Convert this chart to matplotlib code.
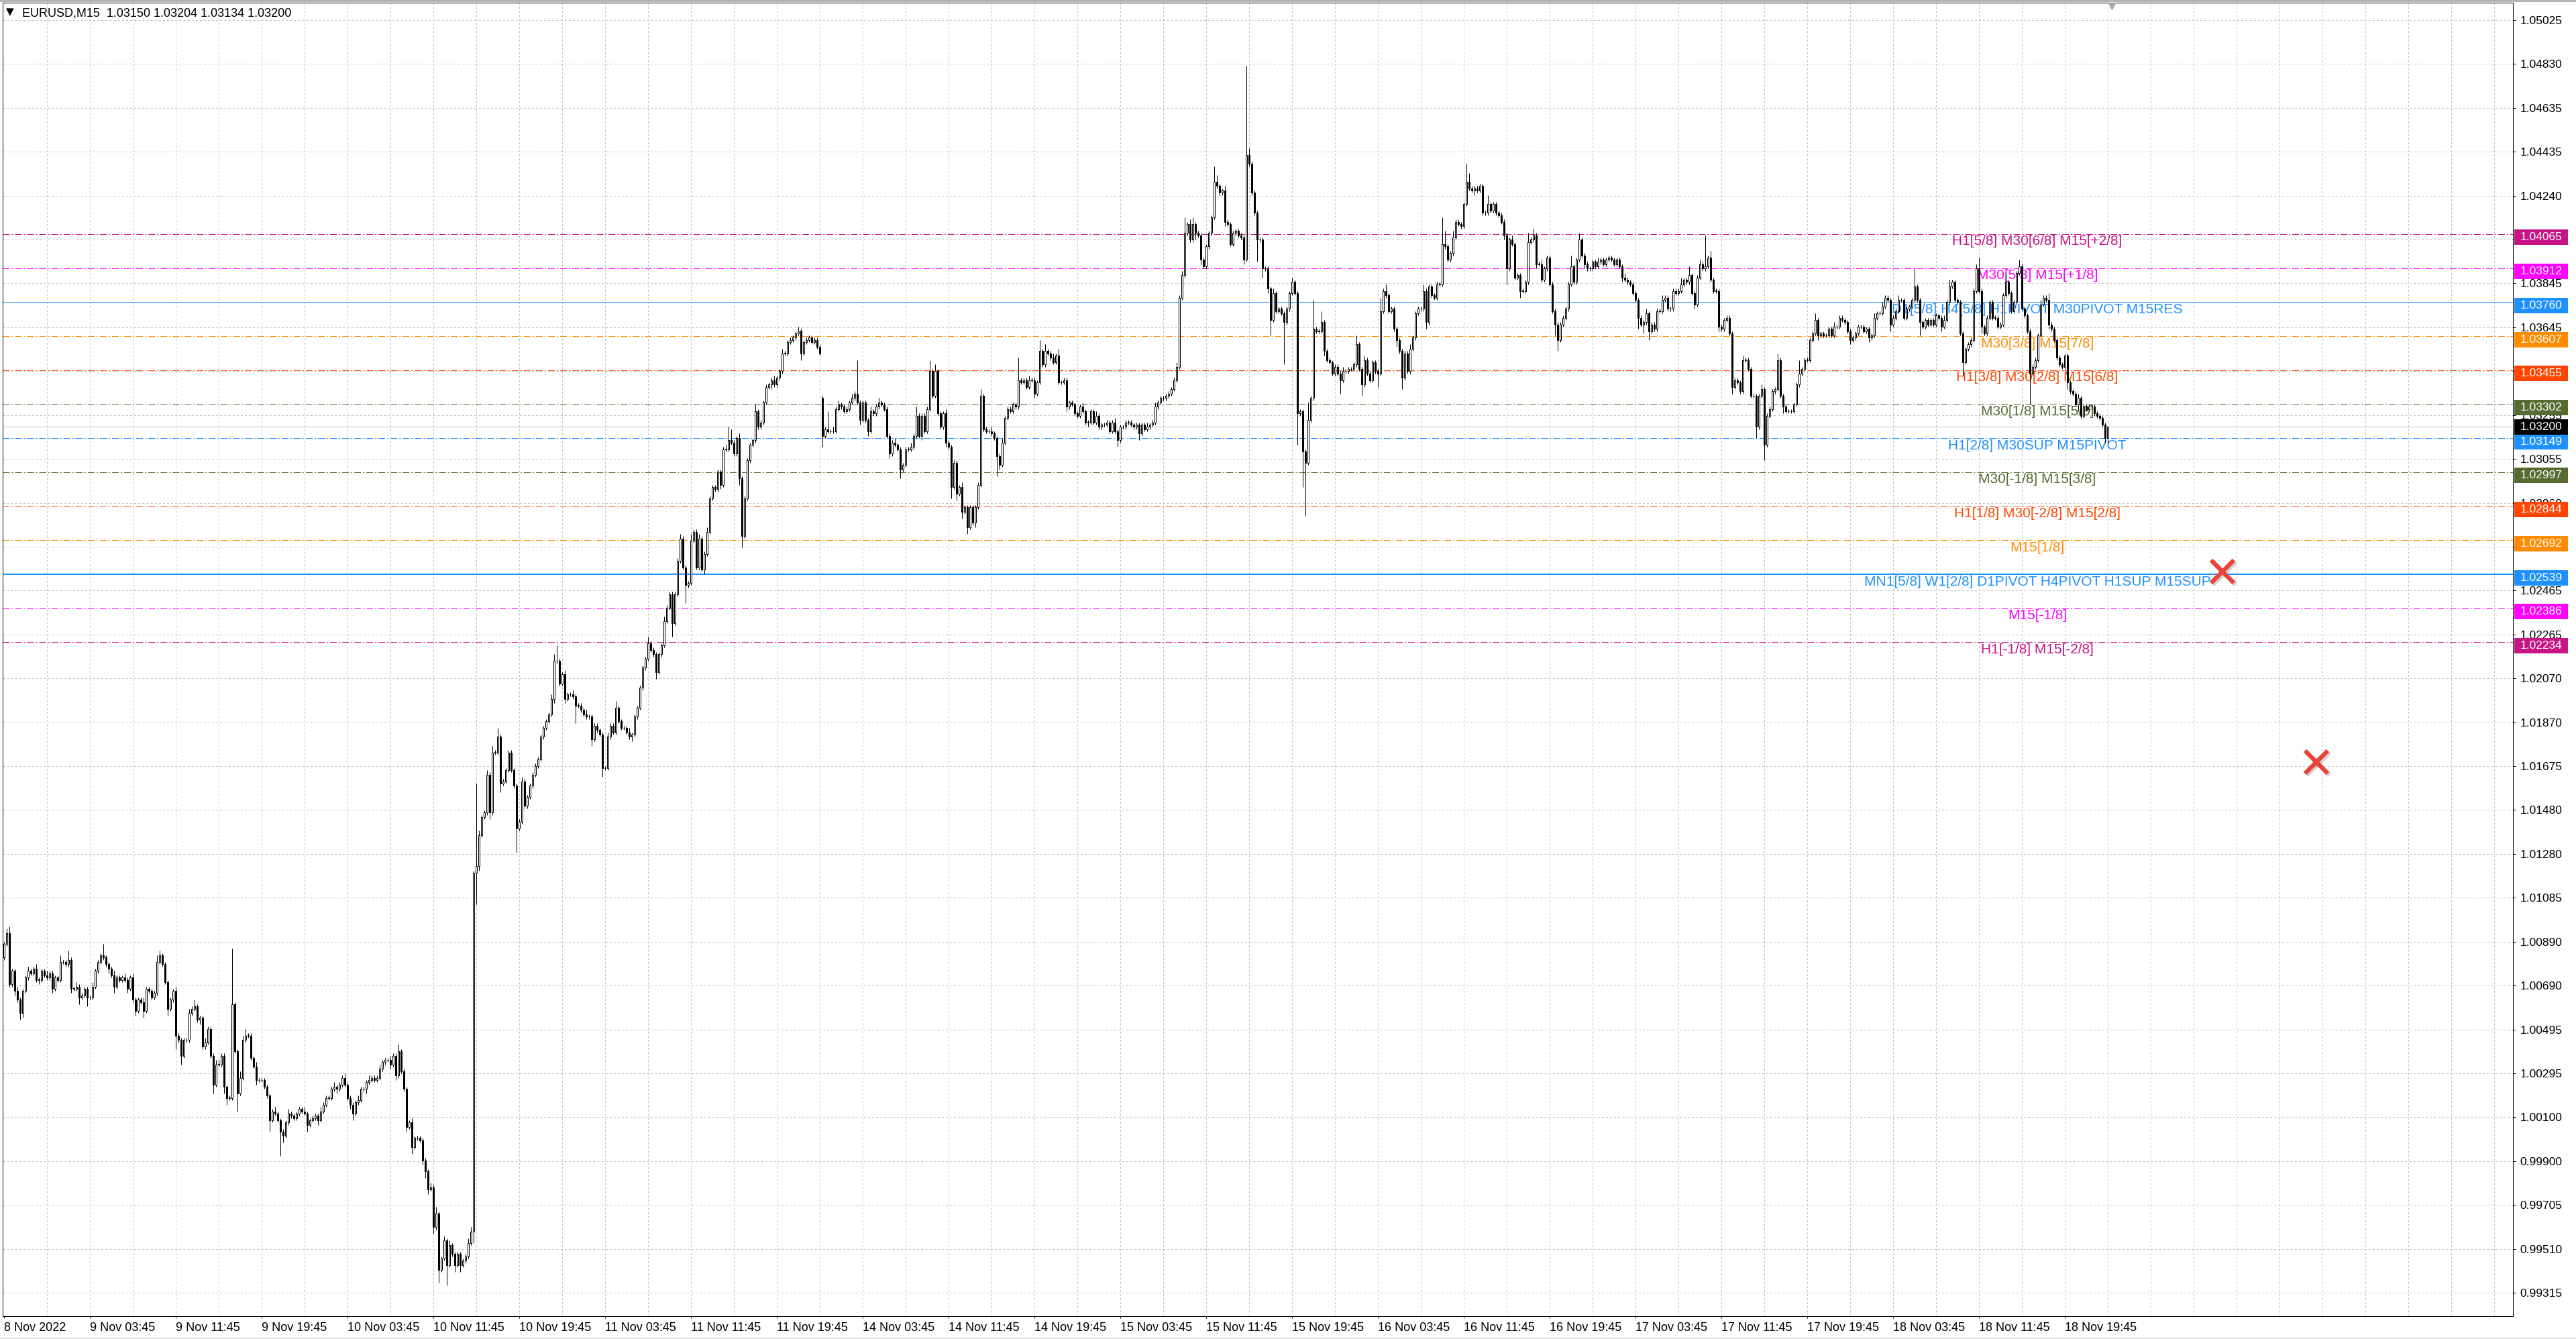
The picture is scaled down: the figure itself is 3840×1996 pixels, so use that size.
import numpy as np
import matplotlib
matplotlib.use("Agg")
import matplotlib.pyplot as plt
from matplotlib.patches import Rectangle
from matplotlib.transforms import blended_transform_factory

plt.rcParams['font.family'] = ['Liberation Sans', 'DejaVu Sans']
plt.rcParams['lines.scale_dashes'] = False

# ---- EURUSD M15 candles (bar 0 = 8 Nov 19:45) ----
first_open = 1.0082
closes = [
    1.0088, 1.0093, 1.0070, 1.0076, 1.0067, 1.0063, 1.0057, 1.0067, 1.0073, 1.0076,  # 0
    1.0075, 1.0077, 1.0072, 1.0072, 1.0076, 1.0074, 1.0073, 1.0075, 1.0068, 1.0073,
    1.0072, 1.0080, 1.0080, 1.0079, 1.0081, 1.0068, 1.0068, 1.0069, 1.0064, 1.0065,
    1.0068, 1.0064, 1.0064, 1.0069, 1.0076, 1.0080, 1.0083, 1.0082, 1.0079, 1.0077,
    1.0074, 1.0069, 1.0073, 1.0072, 1.0073, 1.0072, 1.0068, 1.0073, 1.0063, 1.0058,  # 40
    1.0063, 1.0062, 1.0058, 1.0068, 1.0067, 1.0064, 1.0066, 1.0080, 1.0083, 1.0079,
    1.0071, 1.0059, 1.0063, 1.0067, 1.0047, 1.0045, 1.0038, 1.0045, 1.0045, 1.0057,
    1.0059, 1.0060, 1.0054, 1.0055, 1.0042, 1.0044, 1.0050, 1.0038, 1.0025, 1.0034,
    1.0034, 1.0038, 1.0024, 1.0019, 1.0019, 1.0061, 1.0040, 1.0021, 1.0028, 1.0045,  # 80
    1.0047, 1.0047, 1.0037, 1.0033, 1.0027, 1.0027, 1.0027, 1.0024, 1.0020, 1.0009,
    1.0013, 1.0012, 1.0009, 1.0004, 1.0002, 1.0008, 1.0012, 1.0011, 1.0010, 1.0012,
    1.0014, 1.0013, 1.0012, 1.0007, 1.0009, 1.0010, 1.0011, 1.0009, 1.0013, 1.0016,
    1.0019, 1.0019, 1.0023, 1.0024, 1.0023, 1.0025, 1.0028, 1.0025, 1.0019, 1.0016,  # 120
    1.0012, 1.0017, 1.0018, 1.0023, 1.0023, 1.0026, 1.0027, 1.0028, 1.0027, 1.0028,
    1.0032, 1.0035, 1.0036, 1.0036, 1.0034, 1.0038, 1.0029, 1.0040, 1.0031, 1.0023,
    1.0006, 1.0008, 0.9997, 1.0001, 1.0001, 1.0000, 0.9991, 0.9986, 0.9978, 0.9979,
    0.9961, 0.9967, 0.9942, 0.9947, 0.9955, 0.9944, 0.9953, 0.9949, 0.9944, 0.9949,  # 160
    0.9944, 0.9946, 0.9948, 0.9954, 0.9959, 1.0120, 1.0123, 1.0137, 1.0145, 1.0147,
    1.0164, 1.0147, 1.0174, 1.0174, 1.0181, 1.0160, 1.0161, 1.0166, 1.0174, 1.0166,
    1.0159, 1.0140, 1.0143, 1.0161, 1.0150, 1.0154, 1.0159, 1.0164, 1.0168, 1.0171,
    1.0181, 1.0185, 1.0188, 1.0191, 1.0198, 1.0215, 1.0215, 1.0205, 1.0209, 1.0198,  # 200
    1.0200, 1.0200, 1.0199, 1.0195, 1.0195, 1.0193, 1.0191, 1.0190, 1.0190, 1.0180,
    1.0186, 1.0184, 1.0182, 1.0167, 1.0167, 1.0181, 1.0186, 1.0183, 1.0194, 1.0188,
    1.0185, 1.0185, 1.0183, 1.0181, 1.0182, 1.0190, 1.0194, 1.0203, 1.0212, 1.0216,
    1.0223, 1.0220, 1.0218, 1.0210, 1.0218, 1.0222, 1.0233, 1.0239, 1.0245, 1.0232,  # 240
    1.0245, 1.0260, 1.0270, 1.0257, 1.0249, 1.0250, 1.0269, 1.0273, 1.0257, 1.0270,
    1.0256, 1.0263, 1.0273, 1.0288, 1.0293, 1.0292, 1.0300, 1.0294, 1.0310, 1.0310,
    1.0314, 1.0313, 1.0308, 1.0315, 1.0297, 1.0271, 1.0288, 1.0305, 1.0312, 1.0314,
    1.0327, 1.0320, 1.0322, 1.0331, 1.0338, 1.0339, 1.0341, 1.0339, 1.0342, 1.0345,  # 280
    1.0353, 1.0353, 1.0358, 1.0359, 1.0360, 1.0362, 1.0363, 1.0353, 1.0358, 1.0359,
    1.0360, 1.0358, 1.0359, 1.0356, 1.0353, 1.0316, 1.0319, 1.0318, 1.0318, 1.0318,
    1.0328, 1.0330, 1.0329, 1.0327, 1.0328, 1.0331, 1.0333, 1.0335, 1.0331, 1.0323,
    1.0331, 1.0323, 1.0318, 1.0327, 1.0326, 1.0329, 1.0331, 1.0330, 1.0328, 1.0316,  # 320
    1.0308, 1.0313, 1.0312, 1.0310, 1.0301, 1.0303, 1.0310, 1.0310, 1.0311, 1.0316,
    1.0325, 1.0316, 1.0325, 1.0318, 1.0328, 1.0345, 1.0334, 1.0345, 1.0326, 1.0320,
    1.0326, 1.0313, 1.0311, 1.0293, 1.0304, 1.0290, 1.0293, 1.0282, 1.0284, 1.0275,
    1.0284, 1.0277, 1.0284, 1.0294, 1.0334, 1.0319, 1.0318, 1.0318, 1.0317, 1.0315,  # 360
    1.0307, 1.0303, 1.0313, 1.0324, 1.0328, 1.0327, 1.0330, 1.0329, 1.0341, 1.0340,
    1.0341, 1.0338, 1.0341, 1.0341, 1.0335, 1.0340, 1.0354, 1.0348, 1.0354, 1.0353,
    1.0351, 1.0349, 1.0352, 1.0340, 1.0340, 1.0341, 1.0329, 1.0331, 1.0330, 1.0326,
    1.0325, 1.0329, 1.0327, 1.0322, 1.0322, 1.0327, 1.0322, 1.0325, 1.0320, 1.0321,  # 400
    1.0321, 1.0322, 1.0318, 1.0322, 1.0318, 1.0314, 1.0320, 1.0320, 1.0322, 1.0322,
    1.0321, 1.0320, 1.0321, 1.0317, 1.0321, 1.0319, 1.0320, 1.0321, 1.0322, 1.0329,
    1.0331, 1.0333, 1.0333, 1.0334, 1.0335, 1.0337, 1.0341, 1.0347, 1.0378, 1.0388,
    1.0407, 1.0411, 1.0404, 1.0411, 1.0407, 1.0406, 1.0395, 1.0392, 1.0401, 1.0407,  # 440
    1.0414, 1.0430, 1.0428, 1.0425, 1.0426, 1.0412, 1.0411, 1.0402, 1.0407, 1.0408,
    1.0406, 1.0405, 1.0395, 1.0442, 1.0438, 1.0425, 1.0416, 1.0404, 1.0404, 1.0391,
    1.0391, 1.0382, 1.0368, 1.0380, 1.0372, 1.0373, 1.0371, 1.0367, 1.0373, 1.0380,
    1.0385, 1.0380, 1.0326, 1.0327, 1.0309, 1.0304, 1.0323, 1.0333, 1.0364, 1.0363,  # 480
    1.0363, 1.0367, 1.0354, 1.0350, 1.0349, 1.0344, 1.0347, 1.0344, 1.0341, 1.0345,
    1.0345, 1.0346, 1.0346, 1.0348, 1.0357, 1.0346, 1.0339, 1.0350, 1.0344, 1.0341,
    1.0349, 1.0345, 1.0344, 1.0372, 1.0381, 1.0379, 1.0372, 1.0373, 1.0364, 1.0359,
    1.0354, 1.0342, 1.0353, 1.0345, 1.0355, 1.0360, 1.0371, 1.0373, 1.0373, 1.0381,  # 520
    1.0367, 1.0383, 1.0379, 1.0378, 1.0384, 1.0384, 1.0402, 1.0401, 1.0395, 1.0398,
    1.0405, 1.0412, 1.0411, 1.0410, 1.0420, 1.0430, 1.0427, 1.0426, 1.0427, 1.0426,
    1.0428, 1.0416, 1.0416, 1.0420, 1.0417, 1.0420, 1.0416, 1.0415, 1.0412, 1.0406,
    1.0391, 1.0404, 1.0402, 1.0387, 1.0388, 1.0381, 1.0381, 1.0385, 1.0403, 1.0404,  # 560
    1.0406, 1.0393, 1.0393, 1.0386, 1.0391, 1.0396, 1.0384, 1.0372, 1.0366, 1.0359,
    1.0366, 1.0369, 1.0373, 1.0384, 1.0392, 1.0385, 1.0395, 1.0404, 1.0397, 1.0393,
    1.0391, 1.0391, 1.0394, 1.0392, 1.0394, 1.0395, 1.0393, 1.0395, 1.0396, 1.0395,
    1.0393, 1.0395, 1.0392, 1.0387, 1.0386, 1.0385, 1.0384, 1.0380, 1.0377, 1.0369,  # 600
    1.0366, 1.0367, 1.0371, 1.0363, 1.0366, 1.0364, 1.0372, 1.0372, 1.0377, 1.0378,
    1.0373, 1.0373, 1.0381, 1.0380, 1.0381, 1.0384, 1.0386, 1.0385, 1.0388, 1.0380,
    1.0375, 1.0387, 1.0393, 1.0391, 1.0392, 1.0396, 1.0386, 1.0381, 1.0381, 1.0365,
    1.0364, 1.0368, 1.0369, 1.0362, 1.0338, 1.0341, 1.0340, 1.0336, 1.0350, 1.0350,  # 640
    1.0346, 1.0334, 1.0334, 1.0320, 1.0334, 1.0337, 1.0312, 1.0325, 1.0328, 1.0336,
    1.0337, 1.0350, 1.0334, 1.0329, 1.0327, 1.0327, 1.0327, 1.0330, 1.0339, 1.0344,
    1.0346, 1.0350, 1.0350, 1.0359, 1.0362, 1.0368, 1.0361, 1.0362, 1.0361, 1.0361,
    1.0364, 1.0361, 1.0365, 1.0365, 1.0369, 1.0368, 1.0367, 1.0363, 1.0359, 1.0360,  # 680
    1.0362, 1.0365, 1.0365, 1.0363, 1.0364, 1.0360, 1.0361, 1.0369, 1.0371, 1.0371,
    1.0374, 1.0378, 1.0377, 1.0366, 1.0369, 1.0372, 1.0377, 1.0377, 1.0369, 1.0373,
    1.0374, 1.0377, 1.0383, 1.0377, 1.0367, 1.0365, 1.0368, 1.0366, 1.0368, 1.0366,
    1.0370, 1.0369, 1.0365, 1.0368, 1.0376, 1.0383, 1.0385, 1.0377, 1.0376, 1.0362,  # 720
    1.0349, 1.0355, 1.0357, 1.0359, 1.0381, 1.0391, 1.0381, 1.0365, 1.0362, 1.0369,
    1.0376, 1.0369, 1.0369, 1.0365, 1.0366, 1.0379, 1.0385, 1.0380, 1.0372, 1.0376,
    1.0389, 1.0392, 1.0373, 1.0370, 1.0363, 1.0344, 1.0347, 1.0350, 1.0361, 1.0375,
    1.0378, 1.0377, 1.0366, 1.0364, 1.0359, 1.0351, 1.0348, 1.0347, 1.0352, 1.0340,  # 760
    1.0336, 1.0335, 1.0330, 1.0333, 1.0325, 1.0329, 1.0328, 1.0329, 1.0329, 1.0326,
    1.0325, 1.0324, 1.0321, 1.0315, 1.0320,
]
# weekend gap: Monday 14 Nov opened below Friday's close
gap_opens = {305: 1.0333}

# wick lengths beyond the body, in pips
wick_up = [
    1, 2, 3, 1, 1, 2, 1, 1, 1, 2, 1, 1, 2, 1, 1, 1, 2, 1, 1, 1,
    1, 3, 1, 1, 4, 1, 1, 2, 1, 1, 1, 1, 1, 2, 1, 1, 1, 5, 1, 1,
    1, 2, 1, 1, 1, 2, 1, 1, 2, 1, 1, 1, 2, 1, 1, 1, 1, 3, 2, 1,
    1, 1, 1, 1, 2, 1, 1, 1, 1, 2, 1, 3, 1, 1, 1, 2, 1, 1, 1, 2,
    2, 1, 1, 1, 1, 25, 1, 1, 3, 2, 3, 1, 1, 1, 2, 1, 1, 1, 1, 1,
    1, 2, 1, 1, 1, 1, 2, 1, 1, 1, 1, 1, 2, 1, 1, 1, 1, 1, 2, 1,
    1, 1, 1, 2, 1, 1, 1, 2, 1, 1, 1, 1, 2, 1, 1, 1, 2, 1, 1, 1,
    2, 1, 1, 1, 2, 1, 1, 3, 1, 1, 1, 1, 2, 1, 1, 1, 1, 1, 1, 2,
    1, 3, 1, 1, 2, 1, 2, 1, 1, 1, 1, 1, 1, 2, 2, 1, 37, 2, 1, 1,
    2, 1, 3, 1, 4, 1, 1, 1, 1, 1, 1, 1, 1, 2, 1, 1, 1, 1, 1, 1,
    1, 1, 1, 1, 2, 3, 7, 1, 1, 2, 1, 1, 2, 1, 1, 1, 1, 2, 1, 1,
    1, 1, 1, 1, 1, 2, 1, 1, 3, 1, 1, 1, 1, 2, 1, 1, 1, 1, 1, 1,
    3, 1, 1, 1, 1, 1, 2, 1, 1, 1, 1, 1, 2, 1, 1, 1, 3, 1, 1, 2,
    1, 1, 2, 1, 1, 1, 1, 1, 1, 2, 6, 5, 1, 1, 2, 1, 1, 1, 1, 1,
    3, 1, 1, 1, 1, 1, 1, 2, 1, 1, 2, 1, 1, 1, 1, 1, 2, 1, 1, 1,
    1, 1, 1, 1, 1, 1, 1, 8, 1, 2, 1, 2, 1, 1, 1, 1, 2, 1, 15, 1,
    1, 1, 1, 2, 1, 1, 2, 1, 1, 1, 1, 1, 2, 1, 1, 1, 1, 1, 2, 1,
    4, 1, 1, 1, 1, 5, 1, 3, 1, 1, 1, 2, 1, 1, 1, 1, 1, 2, 1, 1,
    1, 1, 1, 1, 3, 1, 1, 1, 2, 1, 1, 1, 2, 1, 1, 1, 1, 1, 10, 1,
    1, 1, 2, 1, 1, 1, 5, 1, 3, 1, 1, 2, 1, 3, 1, 1, 1, 1, 1, 1,
    1, 1, 2, 1, 1, 1, 1, 2, 1, 1, 1, 1, 1, 1, 2, 1, 1, 1, 1, 1,
    1, 1, 1, 1, 1, 1, 2, 1, 1, 2, 1, 1, 1, 1, 1, 1, 1, 2, 1, 2,
    7, 1, 2, 3, 1, 1, 1, 1, 1, 1, 1, 7, 3, 1, 1, 2, 1, 1, 1, 1,
    1, 1, 1, 40, 3, 1, 1, 1, 1, 1, 1, 1, 1, 2, 1, 1, 1, 1, 1, 1,
    2, 1, 1, 1, 1, 1, 8, 1, 13, 1, 1, 5, 1, 1, 1, 1, 1, 1, 1, 2,
    1, 1, 1, 1, 4, 1, 1, 2, 1, 1, 1, 1, 1, 6, 1, 3, 1, 1, 1, 1,
    1, 1, 1, 1, 2, 1, 1, 1, 1, 3, 1, 1, 1, 1, 1, 1, 12, 6, 1, 1,
    3, 1, 1, 1, 1, 8, 4, 1, 1, 1, 1, 1, 1, 4, 1, 1, 1, 1, 1, 1,
    1, 1, 2, 1, 1, 1, 1, 1, 4, 1, 3, 1, 1, 2, 1, 1, 1, 1, 1, 1,
    1, 1, 1, 1, 5, 1, 1, 3, 1, 1, 1, 1, 1, 1, 2, 1, 1, 1, 1, 1,
    1, 1, 1, 1, 2, 1, 1, 1, 1, 1, 1, 1, 2, 1, 1, 1, 1, 1, 2, 1,
    1, 1, 1, 1, 1, 3, 1, 1, 4, 1, 1, 1, 2, 1, 14, 1, 3, 1, 1, 1,
    1, 1, 1, 1, 1, 1, 1, 1, 2, 1, 1, 1, 1, 1, 1, 2, 1, 1, 1, 1,
    1, 3, 1, 1, 1, 1, 1, 1, 1, 6, 1, 1, 1, 1, 1, 3, 1, 1, 1, 1,
    1, 1, 2, 1, 1, 1, 1, 1, 1, 1, 1, 1, 1, 1, 1, 1, 1, 2, 1, 1,
    2, 1, 1, 1, 1, 1, 2, 1, 1, 1, 1, 1, 8, 1, 1, 1, 1, 1, 1, 1,
    1, 1, 1, 2, 1, 3, 1, 1, 1, 1, 1, 1, 1, 1, 1, 2, 5, 1, 1, 1,
    1, 1, 1, 1, 1, 1, 4, 1, 1, 1, 1, 3, 1, 1, 1, 1, 1, 1, 1, 2,
    1, 1, 3, 1, 1, 1, 1, 1, 1, 1, 1, 1, 1, 2, 1, 1, 1, 1, 1, 1,
    1, 1, 1, 1, 0,
]
wick_dn = [
    1, 1, 1, 1, 2, 1, 3, 2, 1, 1, 1, 1, 1, 2, 1, 1, 1, 1, 2, 1,
    1, 1, 1, 1, 1, 2, 1, 1, 3, 1, 1, 4, 1, 1, 1, 1, 1, 1, 1, 2,
    1, 3, 1, 1, 1, 1, 2, 1, 1, 2, 1, 1, 3, 1, 1, 1, 1, 1, 1, 1,
    1, 3, 1, 1, 6, 1, 4, 1, 1, 1, 1, 1, 1, 2, 1, 1, 1, 1, 4, 1,
    1, 1, 3, 3, 1, 1, 1, 8, 1, 1, 1, 1, 1, 1, 2, 1, 1, 1, 1, 5,
    1, 1, 1, 11, 3, 1, 1, 1, 1, 1, 1, 1, 1, 3, 1, 1, 1, 2, 1, 1,
    1, 1, 1, 1, 2, 1, 1, 1, 1, 2, 3, 1, 1, 1, 1, 2, 1, 1, 1, 1,
    1, 1, 1, 1, 2, 1, 2, 1, 1, 1, 2, 1, 3, 1, 1, 1, 2, 3, 2, 1,
    3, 1, 6, 1, 1, 9, 1, 1, 3, 1, 3, 1, 1, 1, 1, 5, 14, 2, 1, 1,
    1, 3, 1, 1, 1, 4, 1, 1, 1, 1, 1, 11, 1, 1, 1, 1, 1, 1, 1, 1,
    1, 1, 1, 1, 1, 2, 1, 1, 1, 2, 1, 1, 1, 8, 1, 1, 1, 1, 1, 3,
    1, 1, 1, 4, 1, 1, 1, 1, 1, 1, 1, 1, 1, 1, 2, 1, 1, 1, 1, 1,
    1, 1, 1, 3, 1, 1, 1, 1, 1, 6, 1, 1, 1, 1, 8, 1, 1, 1, 1, 1,
    1, 2, 1, 1, 1, 1, 1, 2, 1, 1, 1, 1, 1, 1, 3, 5, 1, 1, 1, 1,
    1, 1, 1, 1, 1, 1, 2, 1, 1, 1, 1, 1, 1, 1, 1, 1, 1, 3, 1, 1,
    1, 1, 1, 1, 1, 5, 1, 1, 1, 1, 1, 1, 1, 1, 1, 1, 1, 1, 1, 2,
    1, 1, 2, 1, 1, 1, 1, 1, 1, 1, 2, 1, 1, 1, 4, 1, 1, 1, 1, 1,
    1, 1, 2, 1, 1, 1, 1, 1, 1, 1, 1, 2, 1, 5, 1, 3, 1, 3, 1, 3,
    1, 1, 2, 1, 1, 1, 1, 1, 1, 1, 9, 2, 1, 1, 1, 1, 1, 1, 1, 1,
    1, 1, 1, 1, 2, 1, 1, 1, 1, 1, 1, 1, 1, 1, 1, 1, 2, 1, 1, 1,
    1, 1, 1, 1, 2, 1, 1, 1, 1, 1, 1, 1, 1, 1, 1, 3, 1, 1, 1, 1,
    1, 1, 1, 3, 1, 1, 1, 1, 1, 1, 1, 1, 1, 1, 1, 1, 1, 1, 1, 1,
    1, 1, 1, 1, 3, 1, 2, 1, 1, 1, 1, 1, 1, 1, 1, 2, 1, 1, 1, 1,
    1, 1, 2, 1, 1, 1, 1, 10, 1, 4, 1, 2, 7, 1, 1, 1, 1, 19, 1, 1,
    1, 1, 14, 1, 16, 24, 1, 1, 1, 1, 1, 1, 2, 1, 1, 1, 1, 1, 6, 1,
    1, 1, 1, 1, 1, 1, 5, 1, 1, 1, 1, 1, 6, 1, 1, 1, 1, 1, 1, 3,
    1, 5, 1, 1, 1, 1, 1, 1, 1, 1, 3, 1, 1, 1, 1, 1, 1, 1, 1, 1,
    1, 1, 1, 1, 1, 1, 1, 1, 2, 1, 1, 1, 1, 1, 1, 1, 1, 1, 1, 2,
    7, 1, 1, 1, 1, 3, 1, 1, 1, 1, 1, 2, 1, 1, 1, 1, 1, 1, 5, 5,
    1, 1, 1, 1, 1, 1, 1, 1, 1, 2, 1, 1, 1, 1, 1, 1, 1, 1, 1, 1,
    1, 1, 1, 2, 1, 1, 1, 1, 1, 5, 1, 4, 1, 4, 1, 1, 1, 1, 1, 1,
    1, 1, 1, 1, 1, 1, 1, 1, 1, 1, 2, 1, 1, 1, 1, 1, 1, 1, 1, 2,
    1, 1, 1, 1, 3, 1, 1, 1, 1, 1, 1, 1, 1, 5, 1, 1, 7, 1, 1, 1,
    1, 1, 1, 3, 1, 1, 1, 1, 1, 1, 1, 1, 1, 1, 1, 1, 2, 1, 1, 1,
    1, 1, 1, 1, 1, 1, 1, 1, 2, 1, 1, 1, 1, 1, 1, 2, 1, 1, 1, 1,
    1, 1, 1, 3, 1, 1, 1, 1, 1, 1, 1, 1, 1, 1, 6, 1, 1, 1, 1, 1,
    1, 1, 2, 1, 1, 1, 1, 1, 1, 1, 6, 1, 1, 1, 1, 1, 1, 3, 1, 1,
    1, 1, 1, 1, 1, 1, 1, 1, 1, 1, 1, 1, 1, 1, 1, 14, 1, 1, 1, 1,
    1, 1, 2, 1, 1, 1, 1, 1, 1, 3, 1, 1, 1, 3, 1, 1, 1, 1, 1, 1,
    1, 1, 1, 2, 2,
]

x_labels = ["8 Nov 2022", "9 Nov 03:45", "9 Nov 11:45", "9 Nov 19:45", "10 Nov 03:45",
            "10 Nov 11:45", "10 Nov 19:45", "11 Nov 03:45", "11 Nov 11:45", "11 Nov 19:45",
            "14 Nov 03:45", "14 Nov 11:45", "14 Nov 19:45", "15 Nov 03:45", "15 Nov 11:45",
            "15 Nov 19:45", "16 Nov 03:45", "16 Nov 11:45", "16 Nov 19:45", "17 Nov 03:45",
            "17 Nov 11:45", "17 Nov 19:45", "18 Nov 03:45", "18 Nov 11:45", "18 Nov 19:45"]
y_labels = ["1.05025", "1.04830", "1.04635", "1.04435", "1.04240", "1.04045", "1.03845",
            "1.03645", "1.03450", "1.03255", "1.03055", "1.02860", "1.02660", "1.02465",
            "1.02265", "1.02070", "1.01870", "1.01675", "1.01480", "1.01280", "1.01085",
            "1.00890", "1.00690", "1.00495", "1.00295", "1.00100", "0.99900", "0.99705",
            "0.99510", "0.99315"]
y_top_tick = 1.05025
y_tick_step = 0.0019686

# Murrey-math style levels
level_prices = [1.04065, 1.03912, 1.03760, 1.03607, 1.03455, 1.03302, 1.03149,
                1.02997, 1.02844, 1.02692, 1.02539, 1.02386, 1.02234]
level_colors = ['#C71585', '#FF00FF', '#1E90FF', '#FF8C00', '#FF4500', '#556B2F', '#1E90FF',
                '#556B2F', '#FF4500', '#FF8C00', '#1E90FF', '#FF00FF', '#C71585']
level_styles = ['dashdot', 'dashdot', 'solid', 'dashdot', 'dashdot', 'dashdot', 'dashdot',
                'dashdot', 'dashdot', 'dashdot', 'solid_thick', 'dashdot', 'dashdot']
level_texts = ["H1[5/8] M30[6/8] M15[+2/8]",
               "M30[5/8] M15[+1/8]",
               "D1[5/8] H4[5/8] H1PIVOT M30PIVOT M15RES",
               "M30[3/8] M15[7/8]",
               "H1[3/8] M30[2/8] M15[6/8]",
               "M30[1/8] M15[5/8]",
               "H1[2/8] M30SUP M15PIVOT",
               "M30[-1/8] M15[3/8]",
               "H1[1/8] M30[-2/8] M15[2/8]",
               "M15[1/8]",
               "MN1[5/8] W1[2/8] D1PIVOT H4PIVOT H1SUP M15SUP",
               "M15[-1/8]",
               "H1[-1/8] M15[-2/8]"]
bid_price = 1.03200
header = "EURUSD,M15  1.03150 1.03204 1.03134 1.03200"

# ---- candle arrays ----
c = np.array(closes)
n = len(c)
o = np.concatenate([[first_open], c[:-1]])
for i, v in gap_opens.items():
    o[i] = v
hi = np.maximum(o, c) + np.array(wick_up[:n]) * 1e-4
lo = np.minimum(o, c) - np.array(wick_dn[:n]) * 1e-4
x = np.arange(n)

# ---- figure / axes in screenshot pixels ----
W, H = 3840, 1996
L, R, T, B = 4, 3746, 4, 1962
fig = plt.figure(figsize=(W / 100, H / 100), dpi=100, facecolor='white')
ax = fig.add_axes([L / W, 1 - B / H, (R - L) / W, (B - T) / H])
ax.set_facecolor('white')

ymax, ymin = 1.05103, 0.99211
ax.set_ylim(ymin, ymax)
ax.set_xlim(-0.5, 935)
px = (ymax - ymin) / (B - T)   # price per pixel
lw1 = 0.72                     # one pixel in points

grid_kw = dict(colors='#c0c0c0', linewidth=lw1, linestyles=(0, (2.2, 2.2)), zorder=0.5)
y_ticks = [y_top_tick - k * y_tick_step for k in range(len(y_labels))]
ax.hlines(y_ticks, -0.5, 935, **grid_kw)
ax.vlines(np.arange(16, 935, 16), ymin, ymax, **grid_kw)

# bid line
ax.axhline(bid_price, color='#c0c0c0', linewidth=lw1, zorder=0.8)

# level lines + labels
dashdot = (0, (7.2, 2.2, 1.4, 2.2))
for p, col, st, txt in zip(level_prices, level_colors, level_styles, level_texts):
    if st == 'solid':
        ax.axhline(p, color=col, linewidth=lw1, zorder=0.9)
    elif st == 'solid_thick':
        ax.axhline(p, color=col, linewidth=2 * lw1, zorder=0.9)
    else:
        ax.axhline(p, color=col, linewidth=lw1, linestyle=dashdot, zorder=0.9)
    ax.annotate(txt, xy=(757.75, p), xytext=(0, -11), textcoords='offset pixels',
                ha='center', va='center', color=col, fontsize=15, zorder=2.5)

# candles
ax.vlines(x, lo, hi, colors='black', linewidth=lw1, zorder=3)
bull = c >= o
body_b = np.minimum(o, c)
body_h = np.maximum(np.abs(c - o), 0.00001)
ax.bar(x[bull], body_h[bull], bottom=body_b[bull], width=0.55, color='white',
       edgecolor='black', linewidth=lw1, zorder=4)
ax.bar(x[~bull], body_h[~bull], bottom=body_b[~bull], width=0.55, color='black',
       edgecolor='black', linewidth=lw1, zorder=4)

# red crosses (chart objects)
for bx, by in [((3313 - 6) / 4, 1.05115 - 852 * 3.0094e-5),
               ((3453 - 6) / 4, 1.05115 - 1136 * 3.0094e-5)]:
    ax.plot(bx + 0.5, by - 2 * px, marker='x', markersize=24, mew=5, color='#9a9a9a',
            alpha=0.45, zorder=6)
    ax.plot(bx, by, marker='x', markersize=24, mew=4.6, color='#E8443A', zorder=7)

# chart-shift marker at the top
trans_xa = blended_transform_factory(ax.transData, ax.transAxes)
ax.plot([785.5], [1 - 5 / (B - T)], marker='v', markersize=7, color='#a8a8a8',
        transform=trans_xa, clip_on=False, zorder=8)

# axes styling
for s in ax.spines.values():
    s.set_color('black')
    s.set_linewidth(lw1)
ax.yaxis.tick_right()
ax.set_yticks(y_ticks)
ax.set_yticklabels(y_labels)
ax.tick_params(axis='y', direction='out', length=3, width=lw1, pad=4.3,
               labelsize=12.5, colors='black')
ax.set_xticks(np.arange(0, 32 * len(x_labels), 32))
ax.set_xticklabels(x_labels, ha='left')
ax.tick_params(axis='x', direction='out', length=2.5, width=lw1, pad=4,
               labelsize=13, colors='black')

# price boxes on the right scale
trans_ay = blended_transform_factory(ax.transAxes, ax.transData)
box_x0 = (3748 - L) / (R - L)
box_w = 80 / (R - L)
box_h = 23 * px
for p, col in list(zip(level_prices, level_colors)) + [(bid_price, 'black')]:
    yc = p if col == 'black' and p == bid_price else p - 5 * px
    ax.add_patch(Rectangle((box_x0, yc - box_h / 2), box_w, box_h, transform=trans_ay,
                           facecolor=col, edgecolor='none', clip_on=False, zorder=9))
    ax.text(box_x0 + box_w / 2, yc, f"{p:.5f}", transform=trans_ay, ha='center',
            va='center', color='white', fontsize=12.5, clip_on=False, zorder=10)

# header and window edges
fig.text(9 / W, 1 - 18 / H, "\u25BC", fontsize=11, va='center', color='black',
         family=['DejaVu Sans'])
fig.text(33 / W, 1 - 20 / H, header, fontsize=13, va='center', color='black')
fig.add_artist(Rectangle((0, 1 - 3 / H), 1, 3 / H, transform=fig.transFigure,
                         facecolor='#b4b4b4', edgecolor='none'))
fig.add_artist(Rectangle((0, 0), 1, 2 / H, transform=fig.transFigure,
                         facecolor='#dcdcdc', edgecolor='none'))

fig.savefig('out.png', dpi=100, facecolor='white')
